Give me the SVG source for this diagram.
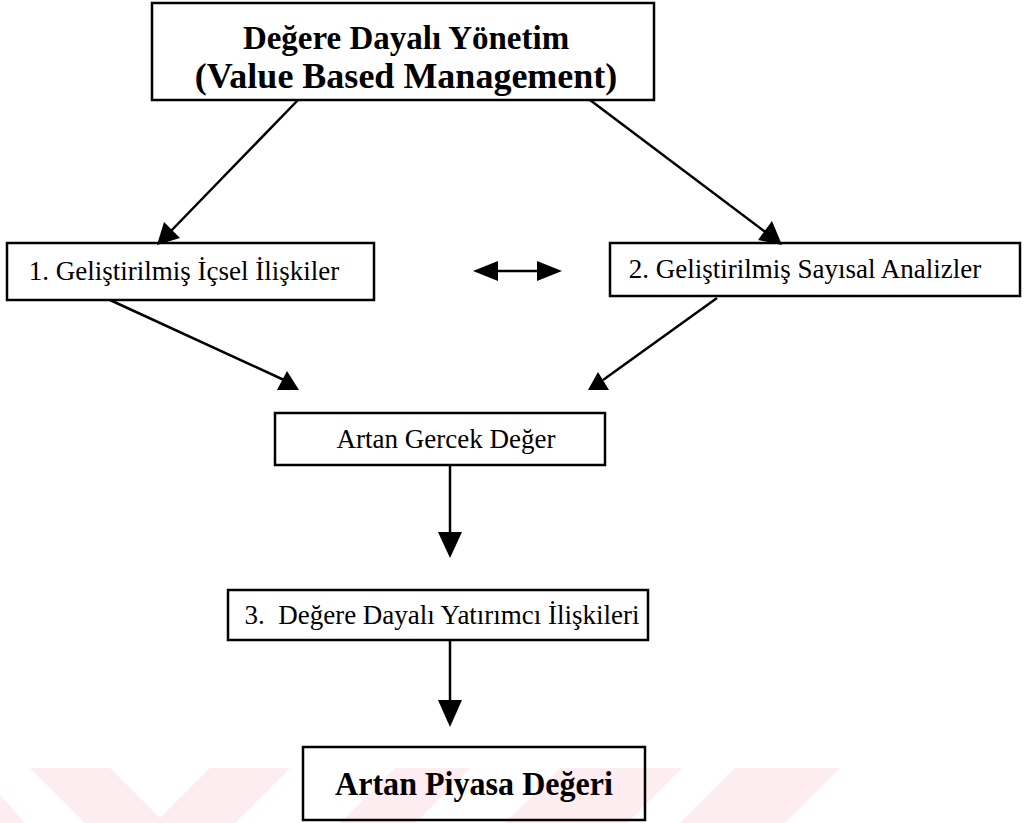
<svg xmlns="http://www.w3.org/2000/svg" width="1032" height="823" viewBox="0 0 1032 823">
<style>
.box{fill:none;stroke:#000;stroke-width:2.5}
.t{font-family:"Liberation Serif","Times New Roman",serif;font-size:27px;fill:#000;text-anchor:middle}
.b{font-family:"Liberation Serif","Times New Roman",serif;font-size:34px;font-weight:bold;fill:#000;text-anchor:middle}
.ln{stroke:#000;stroke-width:2.5;fill:none}
.ah{fill:#000}
.wm{fill:#fdecf0}
</style>
<rect width="1032" height="823" fill="#fff"/>
<g id="watermark">
<polygon class="wm" points="30,768 110,768 165,823 85,823"/>
<polygon class="wm" points="0,795 0,823 25,823"/>
<polygon class="wm" points="210,768 290,768 235,823 155,823"/>
<polygon class="wm" points="395,768 470,768 415,823 340,823"/>
<polygon class="wm" points="560,768 682,768 627,823 505,823"/>
<polygon class="wm" points="735,768 840,768 785,823 680,823"/>
</g>
<g id="connectors">
<line class="ln" x1="298" y1="100" x2="170" y2="232"/>
<polygon class="ah" points="157,245 164,222 180,238"/>
<line class="ln" x1="590" y1="100" x2="768" y2="234"/>
<polygon class="ah" points="782,245 758,240 772,221"/>
<line class="ln" x1="110" y1="300" x2="284" y2="380"/>
<polygon class="ah" points="277,390 299,390 287,371"/>
<line class="ln" x1="717" y1="298" x2="603" y2="380"/>
<polygon class="ah" points="588,390 609,390 598,372"/>
<line class="ln" x1="495" y1="271" x2="540" y2="271"/>
<polygon class="ah" points="473,271 498,261 498,281"/>
<polygon class="ah" points="562,271 537,261 537,281"/>
<line class="ln" x1="450" y1="465" x2="450" y2="535"/>
<polygon class="ah" points="438,532 462,532 450,558"/>
<line class="ln" x1="450" y1="640" x2="450" y2="703"/>
<polygon class="ah" points="438,700 462,700 450,727"/>
</g>
<g id="n0">
<rect class="box" x="152" y="3" width="502" height="97"/>
<text class="b" x="406" y="49" style="font-size:33px">Değere Dayalı Yönetim</text>
<text class="b" x="406" y="88" style="font-size:36px">(Value Based Management)</text>
</g>
<g id="n1">
<rect class="box" x="7" y="243" width="367" height="57"/>
<text class="t" x="184" y="280">1. Geliştirilmiş İçsel İlişkiler</text>
</g>
<g id="n2">
<rect class="box" x="610" y="243" width="410" height="53"/>
<text class="t" x="805" y="278">2. Geliştirilmiş Sayısal Analizler</text>
</g>
<g id="n3">
<rect class="box" x="275" y="413" width="330" height="52"/>
<text class="t" x="446" y="448">Artan Gercek Değer</text>
</g>
<g id="n4">
<rect class="box" x="228" y="590" width="420" height="50"/>
<text class="t" x="442" y="624" xml:space="preserve">3.  Değere Dayalı Yatırımcı İlişkileri</text>
</g>
<g id="n5">
<rect class="box" x="303" y="747" width="342" height="73"/>
<text class="b" x="474" y="795" textLength="278" lengthAdjust="spacingAndGlyphs">Artan Piyasa Değeri</text>
</g>
</svg>
